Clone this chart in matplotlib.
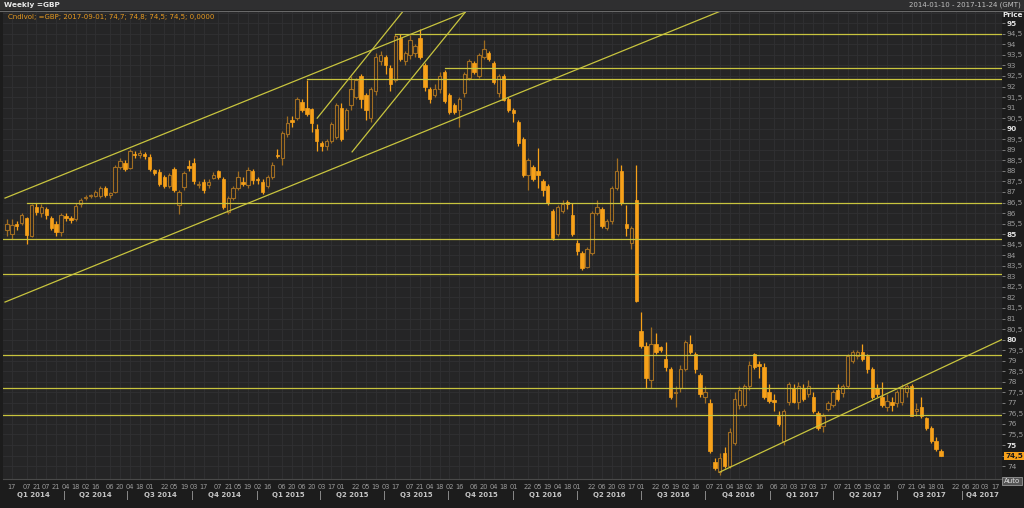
import numpy as np
import pandas as pd
import matplotlib
matplotlib.use("Agg")
import matplotlib.pyplot as plt
from matplotlib.patches import Rectangle
from matplotlib.transforms import blended_transform_factory

# weekly candles, 2014-01-10 .. 2017-09-01
start = pd.Timestamp("2014-01-10")

open_ = [
    85.2, 85.0, 85.45, 85.55, 85.75, 84.9, 86.3, 86.0, 86.2, 85.75,
    85.5, 85.1, 85.85, 85.75, 85.7, 86.45, 86.7, 86.8, 86.8, 86.8,
    87.2, 86.85, 87.0, 88.2, 88.35, 88.15, 88.8, 88.73, 88.8, 88.67,
    88.03, 87.95, 87.7, 87.3, 88.1, 86.4, 87.25, 88.2, 88.35, 87.32,
    87.48, 87.32, 87.65, 87.98, 87.6, 86.06, 86.7, 87.17, 87.48, 87.32,
    88.0, 87.6, 87.48, 87.3, 87.7, 88.75, 88.6, 89.75, 90.4, 90.5,
    91.27, 91.0, 90.95, 90.0, 89.3, 89.2, 89.4, 89.6, 91.0, 90.0,
    91.1, 91.5, 92.5, 91.6, 90.5, 91.8, 93.2, 93.4, 92.9, 92.3,
    94.3, 93.2, 93.5, 93.6, 94.3, 93.0, 91.9, 91.6, 91.9, 92.7,
    91.6, 91.1, 90.9, 91.7, 92.4, 93.1, 92.5, 93.4, 93.6, 93.1,
    91.7, 92.5, 91.4, 90.9, 90.3, 89.5, 87.8, 88.2, 88.0, 87.5,
    87.3, 86.1, 85.0, 86.1, 86.5, 85.9, 84.6, 84.1, 83.45, 84.1,
    86.0, 86.2, 85.3, 85.6, 87.2, 88.0, 85.5, 84.6, 86.6, 80.4,
    79.7, 78.1, 79.8, 79.65, 79.1, 78.6, 77.45, 77.7, 78.6, 79.8,
    79.3, 78.3, 77.26, 77.0, 74.2, 73.7, 74.6, 74.0, 75.1, 76.9,
    76.9, 77.8, 79.3, 78.85, 78.7, 77.5, 77.15, 76.4, 75.2, 77.05,
    77.7, 77.05, 77.7, 77.4, 77.3, 76.5, 75.9, 76.7, 76.9, 77.6,
    77.45, 77.8, 79.0, 79.2, 79.4, 79.2, 78.6, 77.7, 77.3, 76.8,
    77.05, 77.0, 77.05, 77.5, 77.8, 76.6, 76.8, 76.3, 75.8, 75.2,
    74.7,
]
high = [
    85.7, 85.7, 85.6, 86.0, 85.8, 86.45, 86.5, 86.45, 86.3, 85.85,
    85.6, 86.0, 86.0, 85.85, 86.5, 86.7, 86.85, 86.9, 87.1, 87.3,
    87.3, 87.0, 88.3, 88.6, 88.5, 89.05, 88.95, 88.98, 88.9, 88.8,
    88.1, 88.1, 87.8, 87.9, 88.2, 87.1, 88.0, 88.5, 88.6, 87.5,
    87.6, 87.6, 87.95, 88.05, 87.7, 86.8, 87.3, 88.0, 87.7, 88.2,
    88.1, 87.7, 87.6, 87.8, 88.4, 89.05, 89.9, 90.6, 90.6, 91.5,
    91.4, 92.3, 91.0, 90.2, 89.4, 89.5, 90.3, 91.2, 91.2, 91.0,
    92.5, 92.4, 92.6, 91.7, 92.0, 93.6, 93.7, 93.5, 93.0, 94.5,
    94.5, 93.7, 94.45, 94.0, 94.75, 93.1, 92.0, 92.1, 92.7, 92.8,
    91.7, 91.2, 91.5, 92.7, 93.3, 93.2, 93.6, 94.2, 93.7, 93.2,
    92.6, 92.6, 91.5, 91.0, 90.4, 89.6, 88.6, 88.3, 89.1, 87.6,
    87.4, 86.2, 86.4, 86.6, 86.6, 86.5, 84.7, 84.2, 84.4, 86.1,
    86.6, 86.3, 85.7, 87.3, 88.6, 88.3, 86.4, 85.4, 88.3, 81.3,
    79.9, 80.6, 80.3, 79.7, 79.9, 78.7, 77.8, 78.8, 80.0, 80.2,
    79.4, 78.4, 77.8, 77.2, 74.4, 74.6, 74.9, 75.8, 77.5, 77.8,
    77.9, 79.0, 79.35, 79.0, 78.9, 77.9, 77.4, 76.6, 76.7, 78.0,
    77.9, 78.0, 77.9, 78.1, 77.5, 76.6, 76.5, 77.1, 77.6, 77.9,
    77.9, 79.3, 79.5, 79.5, 79.8, 79.3, 78.7, 77.9, 78.0, 77.4,
    77.3, 77.6, 77.9, 77.9, 77.9, 77.0, 77.3, 76.35, 75.9, 75.4,
    74.8,
]
low = [
    84.9, 84.75, 85.2, 85.45, 84.55, 84.85, 85.9, 85.8, 85.7, 85.2,
    84.9, 84.9, 85.6, 85.55, 85.6, 86.3, 86.6, 86.7, 86.75, 86.7,
    86.75, 86.7, 86.95, 88.1, 88.0, 88.1, 88.6, 88.6, 88.55, 88.0,
    87.8, 87.3, 87.2, 87.2, 87.0, 85.95, 87.1, 88.0, 87.4, 87.2,
    86.95, 87.2, 87.6, 87.6, 86.2, 85.95, 86.6, 87.1, 87.3, 87.2,
    87.4, 87.4, 86.9, 87.2, 87.6, 88.6, 88.3, 89.6, 90.1, 90.4,
    90.8, 90.6, 89.85, 88.95, 88.95, 89.0, 89.3, 89.5, 89.4, 89.9,
    90.9, 91.4, 91.0, 90.4, 90.3, 91.6, 93.0, 92.6, 91.8, 92.2,
    93.2, 93.0, 93.3, 93.4, 93.3, 91.8, 91.2, 91.5, 91.7, 91.2,
    90.7, 90.7, 90.1, 91.5, 92.3, 92.6, 92.4, 93.3, 93.2, 92.1,
    91.5, 91.3, 90.8, 90.3, 89.2, 87.7, 87.1, 87.5, 87.2, 86.8,
    86.4, 84.7, 84.9, 86.0, 86.2, 84.9, 84.0, 83.3, 83.4, 84.0,
    85.9, 85.3, 85.2, 85.5, 87.1, 86.4, 84.9, 84.3, 81.8, 79.6,
    77.7, 77.7, 79.3, 79.4, 78.5, 77.2, 76.8, 77.5, 78.5, 79.3,
    78.4, 77.3, 77.0, 74.6, 73.8, 73.6, 73.9, 73.9, 75.0, 76.7,
    76.8, 77.6, 78.6, 78.2, 77.2, 77.0, 76.6, 75.9, 75.0, 76.9,
    77.0, 76.7, 77.1, 77.3, 76.5, 75.7, 75.6, 76.6, 76.8, 77.1,
    77.3, 77.7, 78.9, 79.1, 79.0, 78.4, 77.2, 77.3, 76.8, 76.6,
    76.6, 76.8, 76.9, 77.3, 76.4, 76.4, 76.3, 75.7, 75.1, 74.7,
    74.5,
]
close = [
    85.5, 85.45, 85.4, 85.9, 84.95, 86.38, 86.06, 86.3, 85.9, 85.3,
    85.1, 85.9, 85.75, 85.65, 86.35, 86.6, 86.77, 86.85, 87.0, 87.2,
    86.85, 86.95, 88.2, 88.48, 88.1, 88.95, 88.73, 88.86, 88.72, 88.1,
    87.9, 87.4, 87.3, 87.8, 87.1, 87.0, 87.9, 88.15, 87.5, 87.4,
    87.1, 87.48, 87.8, 87.72, 86.3, 86.7, 87.17, 87.72, 87.4, 88.03,
    87.55, 87.55, 87.0, 87.7, 88.3, 88.7, 89.8, 90.25, 90.3, 91.4,
    90.9, 90.7, 90.25, 89.4, 89.2, 89.4, 90.2, 91.1, 89.5, 90.9,
    91.9, 92.3, 91.4, 90.9, 91.9, 93.4, 93.5, 93.0, 92.1, 94.4,
    93.3, 93.6, 94.2, 93.9, 93.4, 92.0, 91.4, 91.9, 92.5, 91.3,
    90.8, 90.8, 91.4, 92.6, 93.2, 92.7, 93.5, 93.8, 93.3, 92.2,
    92.5, 91.35, 90.9, 90.75, 89.3, 87.8, 88.5, 87.6, 87.8, 87.1,
    86.5, 84.8, 86.3, 86.45, 86.45, 85.0, 84.2, 83.4, 84.3, 86.0,
    86.3, 85.4, 85.6, 87.2, 88.0, 86.5, 85.3, 85.3, 81.85, 79.7,
    78.2, 79.8, 79.4, 79.5, 78.7, 77.3, 77.5, 78.6, 79.9, 79.4,
    78.6, 77.4, 77.5, 74.7, 73.9, 74.4, 74.0, 75.6, 77.2, 77.6,
    77.8, 78.8, 78.7, 78.75, 77.3, 77.1, 77.05, 76.0, 76.6, 77.9,
    77.05, 77.8, 77.2, 77.8, 76.6, 75.8, 76.4, 77.0, 77.5, 77.2,
    77.8, 79.2, 79.4, 79.4, 79.1, 78.6, 77.3, 77.4, 76.9, 77.1,
    76.9, 77.5, 77.7, 77.8, 76.4, 76.7, 76.4, 75.8, 75.2, 74.8,
    74.5,
]

# horizontal support/resistance: (price, first week)
h_levels = [94.5, 92.9, 92.35, 86.5, 84.75, 83.1, 79.27, 77.69, 76.42]
h_starts = [79, 89, 61, 4, -1, -1, -1, -1, -1]

# trend lines: (week, price) pairs
trend_lines = [
    [(-0.4, 86.71), (93.2, 95.52)],
    [(-0.4, 81.78), (145.4, 95.6)],
    [(63.1, 90.5), (80.4, 95.52)],
    [(70.2, 88.9), (93.2, 95.52)],
    [(145.0, 73.72), (203.0, 80.07)],
]

day_ticks = [
    "2014-01-17", "2014-02-07", "2014-02-21", "2014-03-07", "2014-03-21", "2014-04-04",
    "2014-04-18", "2014-05-02", "2014-05-16", "2014-06-06", "2014-06-20", "2014-07-04",
    "2014-07-18", "2014-08-01", "2014-08-22", "2014-09-05", "2014-09-19", "2014-10-03",
    "2014-10-17", "2014-11-07", "2014-11-21", "2014-12-05", "2014-12-19", "2015-01-02",
    "2015-01-16", "2015-02-06", "2015-02-20", "2015-03-06", "2015-03-20", "2015-04-03",
    "2015-04-17", "2015-05-01", "2015-05-22", "2015-06-05", "2015-06-19", "2015-07-03",
    "2015-07-17", "2015-08-07", "2015-08-21", "2015-09-04", "2015-09-18", "2015-10-02",
    "2015-10-16", "2015-11-06", "2015-11-20", "2015-12-04", "2015-12-18", "2016-01-01",
    "2016-01-22", "2016-02-05", "2016-02-19", "2016-03-04", "2016-03-18", "2016-04-01",
    "2016-04-22", "2016-05-06", "2016-05-20", "2016-06-03", "2016-06-17", "2016-07-01",
    "2016-07-22", "2016-08-05", "2016-08-19", "2016-09-02", "2016-09-16", "2016-10-07",
    "2016-10-21", "2016-11-04", "2016-11-18", "2016-12-02", "2016-12-16", "2017-01-06",
    "2017-01-20", "2017-02-03", "2017-02-17", "2017-03-03", "2017-03-17", "2017-04-07",
    "2017-04-21", "2017-05-05", "2017-05-19", "2017-06-02", "2017-06-16", "2017-07-07",
    "2017-07-21", "2017-08-04", "2017-08-18", "2017-09-01", "2017-09-22", "2017-10-06",
    "2017-10-20", "2017-11-03", "2017-11-17",
]
quarters = ["Q1 2014", "Q2 2014", "Q3 2014", "Q4 2014", "Q1 2015", "Q2 2015", "Q3 2015",
            "Q4 2015", "Q1 2016", "Q2 2016", "Q3 2016", "Q4 2016", "Q1 2017", "Q2 2017",
            "Q3 2017", "Q4 2017"]

BG = "#252526"
FRAME = "#1c1c1c"
GRID = "#303032"
UP = "#a06d22"
DOWN = "#f7a11a"
LINE = "#c8c43e"
TXT = "#9c9c9c"

W, H = 1024, 508
fig = plt.figure(figsize=(W / 100, H / 100), dpi=100)
fig.patch.set_facecolor(FRAME)
ax = fig.add_axes([3 / W, 1 - 479 / H, (1002 - 3) / W, (479 - 11) / H])
ax.set_facecolor(BG)

n = min(len(open_), len(high), len(low), len(close))
xs = np.arange(n)
o = np.array(open_[:n]); h = np.array(high[:n]); l = np.array(low[:n]); c = np.array(close[:n])
up = c >= o

x_min, x_max = -0.81, 202.4
y_min, y_max = 73.39, 95.58
ax.set_xlim(x_min, x_max)
ax.set_ylim(y_min, y_max)

def week_of(d):
    return (pd.Timestamp(d) - start).days / 7.0

# grid
tick_x = [week_of(d) for d in day_ticks]
for tx_ in tick_x:
    ax.axvline(tx_, color=GRID, lw=0.6, zorder=0)
for yy in np.arange(74, 95.51, 0.5):
    ax.axhline(yy, color=GRID, lw=0.6, zorder=0)

# candles
ax.vlines(xs[up], l[up], h[up], color=UP, lw=0.9, zorder=2)
ax.vlines(xs[~up], l[~up], h[~up], color=DOWN, lw=0.9, zorder=2)
body_lo = np.minimum(o, c)
body_h = np.maximum(np.abs(c - o), 0.06)
ax.bar(xs[up], body_h[up], bottom=body_lo[up], width=0.68, facecolor=BG,
       edgecolor=UP, linewidth=0.8, zorder=3)
ax.bar(xs[~up], body_h[~up], bottom=body_lo[~up], width=0.68, facecolor=DOWN,
       edgecolor=DOWN, linewidth=0.5, zorder=3)

# horizontal levels and trend lines
for lvl, s in zip(h_levels, h_starts):
    ax.plot([max(s, x_min), x_max], [lvl, lvl], color=LINE, lw=0.9, zorder=4)
for (x1, y1), (x2, y2) in trend_lines:
    ax.plot([x1, x2], [y1, y2], color=LINE, lw=0.9, zorder=4)

# right price axis
ax.yaxis.tick_right()
yt = np.arange(74, 95.01, 0.5)
ax.set_yticks(yt)
ax.set_yticklabels([("%g" % v).replace(".", ",") for v in yt])
ax.tick_params(axis="y", colors="#8a8a8a", labelsize=5.3, length=2.5, width=0.6, pad=1)
for lab, v in zip(ax.get_yticklabels(), yt):
    if v % 5 == 0:
        lab.set_fontweight("bold")
        lab.set_color("#e0e0e0")
    else:
        lab.set_color("#9a9a9a")
ax.set_xticks([])
for sp in ax.spines.values():
    sp.set_visible(False)
ax.spines["bottom"].set_visible(True)
ax.spines["bottom"].set_color("#4a4a4a")
ax.spines["bottom"].set_linewidth(0.8)

# date labels
tr = blended_transform_factory(ax.transData, fig.transFigure)
for d, xv in zip(day_ticks, tick_x):
    if x_min < xv < x_max - 1:
        ax.text(xv, 1 - 487 / H, pd.Timestamp(d).strftime("%d"), transform=tr,
                ha="center", va="center", fontsize=4.8, color=TXT, clip_on=False)
for k, q in enumerate(quarters):
    yr = 2014 + k // 4
    mq = 1 + 3 * (k % 4)
    q0 = week_of(pd.Timestamp(year=yr, month=mq, day=1))
    q1 = week_of(pd.Timestamp(year=yr, month=mq, day=1) + pd.DateOffset(months=3))
    a, b = max(q0, x_min), min(q1, x_max)
    ax.text((a + b) / 2, 1 - 495 / H, q, transform=tr, ha="center", va="center",
            fontsize=5, fontweight="bold", color="#c4c4c4", clip_on=False)
    if k > 0:
        ax.text(q0, 1 - 495 / H, "|", transform=tr, ha="center", va="center",
                fontsize=5.5, color="#c4c4c4", clip_on=False)

# header
fig.patches.append(Rectangle((0, 1 - 10 / H), 1, 10 / H, transform=fig.transFigure,
                             facecolor="#2f2f30", edgecolor="none", zorder=0))
fig.add_artist(plt.Line2D([0, 1], [1 - 10.5 / H, 1 - 10.5 / H], transform=fig.transFigure,
                          color="#6a6a6a", lw=0.8))
fig.text(4 / W, 1 - 5 / H, "Weekly =GBP", fontsize=5.3, fontweight="bold", color="#e8e8e8",
         ha="left", va="center")
fig.text(1021 / W, 1 - 5 / H, "2014-01-10 - 2017-11-24 (GMT)", fontsize=5, color="#c0c0c0",
         ha="right", va="center")
ax.text(8 / W, 1 - 17 / H, "Cndlvol; =GBP; 2017-09-01; 74,7; 74,8; 74,5; 74,5; 0,0000",
        transform=fig.transFigure, fontsize=5, color="#e89a20", ha="left", va="center")
fig.text(1013 / W, 1 - 15 / H, "Price", fontsize=5.2, fontweight="bold", color="#e8e8e8",
         ha="center", va="center")

# last price tag
last = c[-1]
ax.text(1.003, last, ("%g" % last).replace(".", ","), transform=ax.get_yaxis_transform(),
        fontsize=5.2, fontweight="bold", color="#1a1a1a", ha="left", va="center",
        bbox=dict(boxstyle="square,pad=0.15", facecolor="#f7a11a", edgecolor="none"),
        clip_on=False, zorder=6)

# Auto button
fig.text(1012 / W, 1 - 481 / H, "Auto", fontsize=5, color="#e0e0e0", ha="center", va="center",
         bbox=dict(boxstyle="square,pad=0.2", facecolor="#555555", edgecolor="#aaaaaa", lw=0.5))

fig.savefig("out.png", dpi=100, facecolor=fig.get_facecolor())
